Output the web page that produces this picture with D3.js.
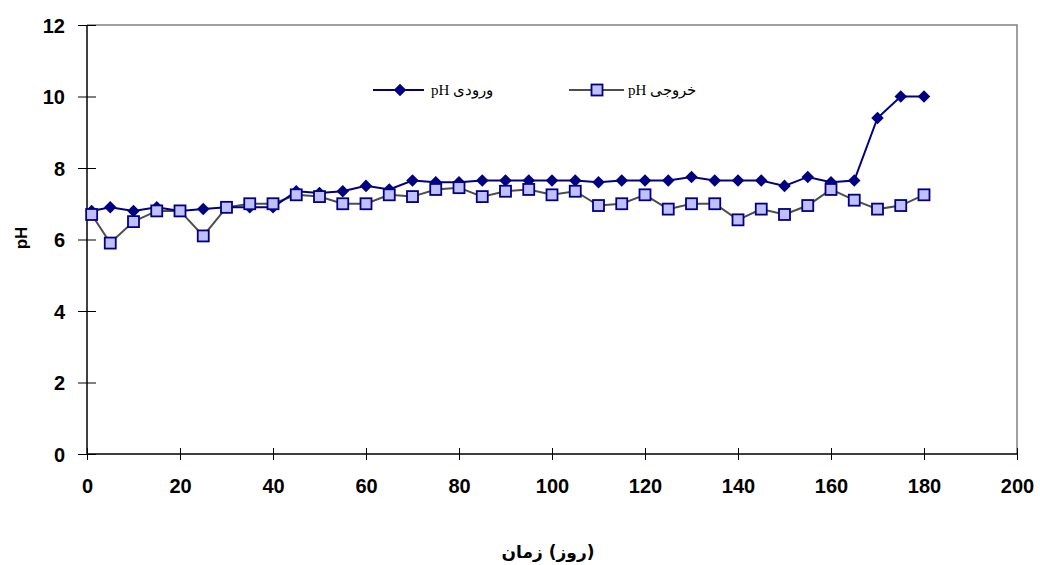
<!DOCTYPE html>
<html>
<head>
<meta charset="utf-8">
<script src="https://cdn.jsdelivr.net/npm/d3@7"></script>
<style>
  body { margin: 0; background: #fff; }
  svg { display: block; }
</style>
</head>
<body>
<script>
// days of sampling
const days = [1, 5, 10, 15, 20, 25, 30, 35, 40, 45, 50, 55, 60, 65, 70, 75, 80, 85, 90,
  95, 100, 105, 110, 115, 120, 125, 130, 135, 140, 145, 150, 155, 160, 165, 170, 175, 180];
// influent pH
const phIn = [6.8, 6.9, 6.8, 6.9, 6.8, 6.85, 6.9, 6.9, 6.9, 7.35, 7.3, 7.35, 7.5, 7.4, 7.65, 7.6, 7.6, 7.65, 7.65,
  7.65, 7.65, 7.65, 7.6, 7.65, 7.65, 7.65, 7.75, 7.65, 7.65, 7.65, 7.5, 7.75, 7.6, 7.65, 9.4, 10, 10];
// effluent pH
const phOut = [6.7, 5.9, 6.5, 6.8, 6.8, 6.1, 6.9, 7.0, 7.0, 7.25, 7.2, 7.0, 7.0, 7.25, 7.2, 7.4, 7.45, 7.2, 7.35,
  7.4, 7.25, 7.35, 6.95, 7.0, 7.25, 6.85, 7.0, 7.0, 6.55, 6.85, 6.7, 6.95, 7.4, 7.1, 6.85, 6.95, 7.25];
const xTicks = [0, 20, 40, 60, 80, 100, 120, 140, 160, 180, 200];
const yTicks = [0, 2, 4, 6, 8, 10, 12];
const seriesNames = ["pH ورودی", "pH خروجی"];
const xTitleParts = ["زمان", "(روز)"];

const width = 1040, height = 565;
const plotL = 87, plotR = 1017, plotT = 25, plotB = 454;

const svg = d3.select("body").append("svg")
  .attr("width", width)
  .attr("height", height);

const x = d3.scaleLinear().domain([0, 200]).range([plotL, plotR]);
const y = d3.scaleLinear().domain([0, 12]).range([plotB, plotT]);

// plot frame (top/right in gray)
svg.append("path")
  .attr("d", `M${plotL},${plotT}H${plotR}V${plotB}`)
  .attr("fill", "none")
  .attr("stroke", "#808080")
  .attr("stroke-width", 1.5);

// axes
const xAxis = svg.append("g")
  .attr("transform", `translate(0,${plotB})`)
  .call(d3.axisBottom(x).tickValues(xTicks).tickSize(0).tickPadding(0).tickFormat(d3.format("d")));
xAxis.select(".domain").remove();
xAxis.selectAll(".tick line").attr("y1", -6).attr("y2", 6).attr("stroke", "#000");
xAxis.selectAll(".tick text")
  .attr("y", 32).attr("dy", "0.35em")
  .attr("font-family", "Liberation Sans, Arial, sans-serif")
  .attr("font-size", 20).attr("font-weight", "bold").attr("fill", "#000");

const yAxis = svg.append("g")
  .attr("transform", `translate(${plotL},0)`)
  .call(d3.axisLeft(y).tickValues(yTicks).tickSize(0).tickPadding(0));
yAxis.select(".domain").remove();
yAxis.selectAll(".tick line").attr("x1", -9).attr("x2", 9).attr("stroke", "#000");
yAxis.selectAll(".tick text")
  .attr("x", -22).attr("dy", "0.35em")
  .attr("font-family", "Liberation Sans, Arial, sans-serif")
  .attr("font-size", 20).attr("font-weight", "bold").attr("fill", "#000");

svg.append("line").attr("x1", plotL).attr("x2", plotR).attr("y1", plotB).attr("y2", plotB)
  .attr("stroke", "#000").attr("stroke-width", 1.5);
svg.append("line").attr("x1", plotL).attr("x2", plotL).attr("y1", plotT).attr("y2", plotB)
  .attr("stroke", "#000").attr("stroke-width", 1.5);

// axis titles
svg.append("text")
  .attr("transform", `translate(21,238) rotate(-90)`)
  .attr("text-anchor", "middle").attr("dy", "0.35em")
  .attr("font-family", "Liberation Sans, Arial, sans-serif")
  .attr("font-size", 17).attr("font-weight", "bold")
  .text("pH");

// x title: two pieces side by side so the word order matches the original
const xTitle = svg.append("g").attr("transform", "translate(0,552)");
const parts = xTitle.selectAll("text").data(xTitleParts).join("text")
  .attr("dy", "0.35em")
  .attr("font-family", "DejaVu Sans, sans-serif")
  .attr("font-size", 17).attr("font-weight", "bold")
  .text(d => d);
const widths = parts.nodes().map(n => n.getComputedTextLength());
const gap = 6;
let cx = 548 - (widths[0] + widths[1] + gap) / 2;
parts.attr("x", (d, i) => i === 0 ? cx : cx + widths[0] + gap);

const line = d3.line().x(d => x(d[0])).y(d => y(d[1]));
const diamond = d3.symbol().type(d3.symbolDiamond2).size(100);

// effluent series
const outData = days.map((d, i) => [d, phOut[i]]);
svg.append("path").datum(outData)
  .attr("d", line).attr("fill", "none")
  .attr("stroke", "#4d4d4d").attr("stroke-width", 2);

// influent series
const inData = days.map((d, i) => [d, phIn[i]]);
svg.append("path").datum(inData)
  .attr("d", line).attr("fill", "none")
  .attr("stroke", "#000080").attr("stroke-width", 2);

svg.append("g").selectAll("path").data(inData).join("path")
  .attr("transform", d => `translate(${x(d[0])},${y(d[1])})`)
  .attr("d", diamond).attr("fill", "#000080");

svg.append("g").selectAll("rect").data(outData).join("rect")
  .attr("x", d => x(d[0]) - 5.5).attr("y", d => y(d[1]) - 5.5)
  .attr("width", 11).attr("height", 11)
  .attr("fill", "#c0c0ff").attr("stroke", "#000080").attr("stroke-width", 1.8);

// legend
const legend = svg.append("g").attr("transform", "translate(0,90)");
legend.append("line").attr("x1", 373).attr("x2", 424).attr("stroke", "#000080").attr("stroke-width", 2);
legend.append("path").attr("transform", "translate(400,0)").attr("d", diamond).attr("fill", "#000080");
legend.append("text").attr("x", 431).attr("dy", "0.35em")
  .attr("font-family", "Liberation Serif, Times New Roman, serif").attr("font-size", 15)
  .text(seriesNames[0]);

legend.append("line").attr("x1", 569).attr("x2", 624).attr("stroke", "#4d4d4d").attr("stroke-width", 2);
legend.append("rect").attr("x", 591.5).attr("y", -5.5).attr("width", 11).attr("height", 11)
  .attr("fill", "#c0c0ff").attr("stroke", "#000080").attr("stroke-width", 1.8);
legend.append("text").attr("x", 628).attr("dy", "0.35em")
  .attr("font-family", "Liberation Serif, Times New Roman, serif").attr("font-size", 15)
  .text(seriesNames[1]);
</script>
</body>
</html>
